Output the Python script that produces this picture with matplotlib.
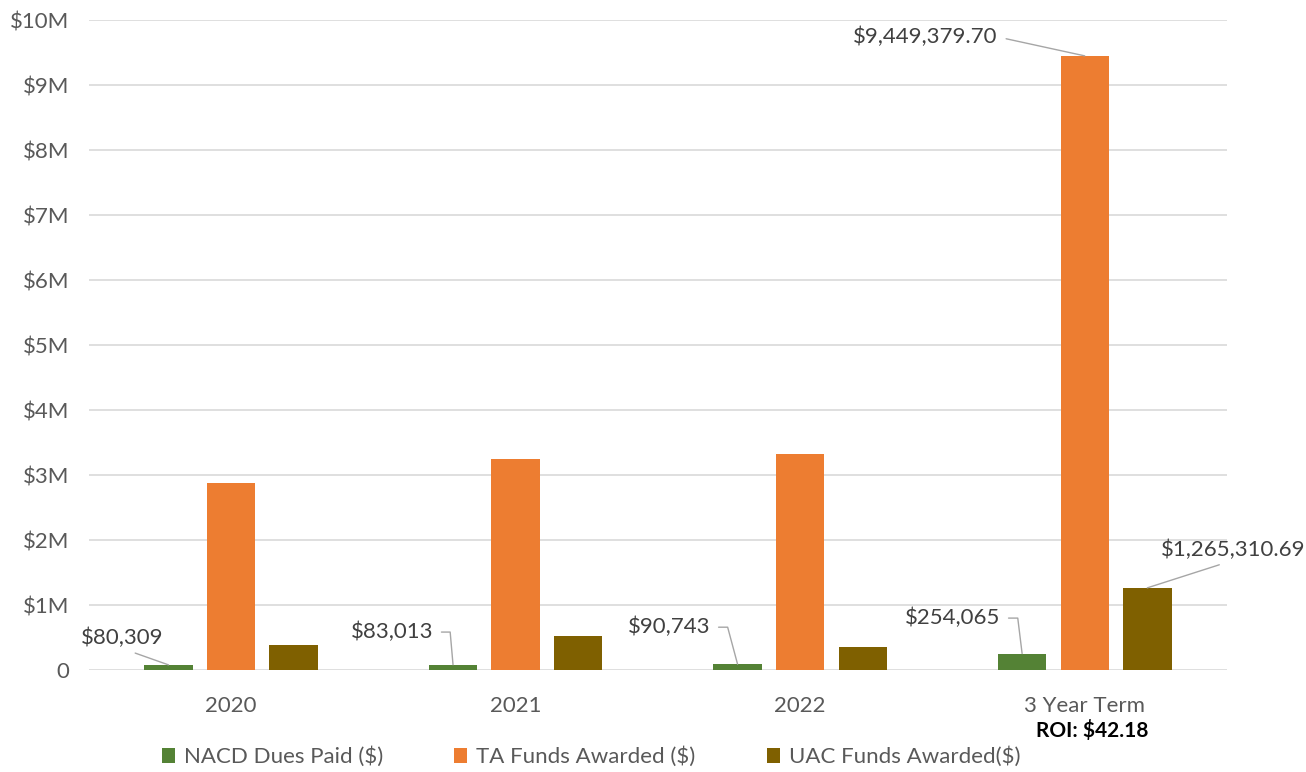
import matplotlib.pyplot as plt
import numpy as np

plt.rcParams['font.family'] = ['Lato', 'DejaVu Sans']

categories = ['2020', '2021', '2022', '3 Year Term']
nacd_dues = [80309, 83013, 90743, 254065]
ta_funds = [2880000, 3250000, 3320000, 9449379.70]
uac_funds = [390000, 520000, 355000, 1265310.69]
series_names = ['NACD Dues Paid ($)', 'TA Funds Awarded ($)', 'UAC Funds Awarded($)']
colors = ['#548235', '#ED7D31', '#7F6000']

# labelled points: (series index, category index, text, text x, text y, ha, leader angle)
labels = [
    (0, 0, '$80,309', -0.383, 490000, 'center', None),
    (0, 1, '$83,013', 0.710, 585000, 'right', 95),
    (0, 2, '$90,743', 1.684, 660000, 'right', 105),
    (0, 3, '$254,065', 2.703, 800000, 'right', 97),
    (1, 3, '$9,449,379.70', 2.695, 9740000, 'right', None),
    (2, 3, '$1,265,310.69', 3.522, 1846000, 'center', None),
]

fig = plt.figure(figsize=(13.06, 7.72), dpi=100)
ax = fig.add_axes([0.068, 0.132, 0.8715, 0.842])

x = np.arange(len(categories))
width = 0.17
offsets = [-0.22, 0, 0.22]
all_series = [nacd_dues, ta_funds, uac_funds]
for vals, off, c, name in zip(all_series, offsets, colors, series_names):
    ax.bar(x + off, vals, width, color=c, label=name, zorder=3)

gray = '#595959'
for si, ci, txt, tx, ty, ha, ang in labels:
    val = all_series[si][ci]
    if ang is not None:
        cs = 'angle,angleA=0,angleB=%d,rad=0' % ang
        rel = (1.0, 0.5)
    else:
        cs = 'arc3'
        rel = (1.0, 0.5) if ha == 'right' else (0.5, 0.0)
    ax.annotate(txt, xy=(ci + offsets[si], val), xytext=(tx, ty),
                ha=ha, va='center', fontsize=16, color='#404040',
                arrowprops=dict(arrowstyle='-', color='#a6a6a6', lw=1,
                                connectionstyle=cs, relpos=rel,
                                shrinkA=4, shrinkB=0))

ax.set_xlim(-0.5, 3.5)
ax.set_ylim(0, 10000000)
ax.set_yticks(np.arange(0, 10000001, 1000000))
ax.set_yticklabels(['0'] + ['$%dM' % i for i in range(1, 11)])
ax.set_xticks(x)
ax.set_xticklabels(categories)
ax.tick_params(axis='both', length=0, labelsize=16, colors=gray)
ax.tick_params(axis='x', pad=19)
ax.tick_params(axis='y', pad=14)
ax.grid(axis='y', color='#d9d9d9', lw=1.2, zorder=0)
for s in ax.spines.values():
    s.set_visible(False)

fig.text(0.836, 0.054, 'ROI: $42.18', ha='center', va='center',
         fontsize=15, fontweight='bold', color='black')

fig.legend(loc='center', bbox_to_anchor=(0.4525, 0.0194), ncol=3,
           frameon=False, fontsize=16, labelcolor=gray, handlelength=0.6,
           handleheight=0.6, columnspacing=3.2, handletextpad=0.4,
           borderaxespad=0)

fig.savefig('out.png', dpi=100)
